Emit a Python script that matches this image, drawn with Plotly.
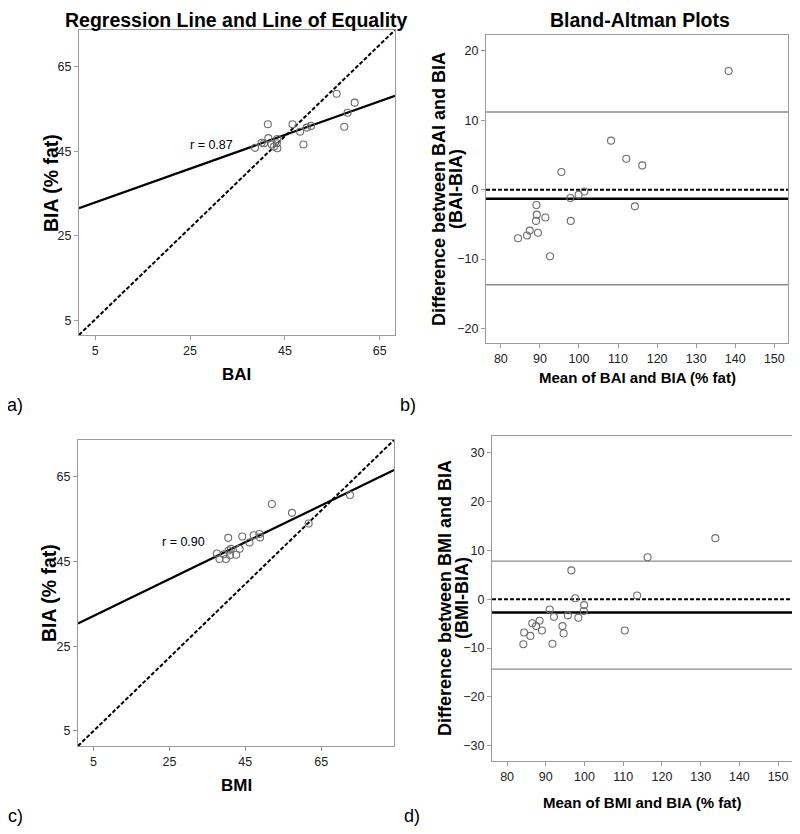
import plotly.graph_objects as go

# Page is 800x834; the HTML body has an 8px margin, so the figure is 784x818
# and screen coordinates are shifted by 8px.
PAGE_OFF = 8
W, H = 784, 818

# ---------------- data ----------------
# Panel a: BAI vs BIA
bai_a = [55.9, 59.7, 58.2, 57.5, 41.4, 46.6, 48.2, 49.6, 50.5, 48.9, 41.5, 40.1, 40.6, 38.7, 42.2, 43.3, 42.7, 43.4, 43.4]
bia_a = [58.6, 56.5, 54.1, 50.8, 51.4, 51.4, 49.6, 50.6, 51.0, 46.6, 48.1, 47.0, 46.9, 45.8, 46.6, 46.9, 46.1, 45.7, 47.9]
reg_a = {"slope": 0.40, "intercept": 30.86}
r_a = "r = 0.87"
eq_a_x = [1.6, 68.2]
eq_a_y = [1.5, 73.7]

# Panel b: Bland-Altman BAI vs BIA
mean_b = [138.3, 108.2, 112.1, 116.2, 95.5, 101.4, 99.9, 97.8, 114.3, 89.1, 89.2, 89.0, 91.4, 97.9, 87.4, 86.7, 84.4, 89.5, 92.6]
diff_b = [17.1, 7.07, 4.47, 3.5, 2.54, -0.25, -0.72, -1.2, -2.4, -2.2, -3.6, -4.5, -4.0, -4.5, -5.9, -6.6, -7.0, -6.2, -9.6]
loa_b = {"upper": 11.2, "mean": -1.3, "lower": -13.7}

# Panel c: BMI vs BIA
bmi_c = [72.6, 52.0, 57.3, 61.7, 40.5, 44.2, 47.2, 48.7, 48.9, 46.1, 43.5, 41.2, 37.5, 38.2, 39.9, 41.0, 42.6, 39.3, 40.6]
bia_c = [60.7, 58.6, 56.5, 54.0, 50.6, 50.9, 51.2, 51.5, 50.7, 49.5, 48.0, 48.0, 46.9, 45.6, 45.6, 46.5, 46.6, 46.7, 47.6]
reg_c = {"slope": 0.4346, "intercept": 30.0}
r_c = "r = 0.90"
eq_c_x = [0.9, 84.2]
eq_c_y = [1.45, 73.7]

# Panel d: Bland-Altman BMI vs BIA
mean_d = [133.8, 116.3, 96.6, 113.6, 97.6, 99.9, 99.8, 91.0, 92.1, 95.7, 98.4, 88.4, 86.5, 87.5, 94.3, 89.0, 110.4, 84.4, 86.0, 94.6, 84.2, 91.7]
diff_d = [12.5, 8.6, 5.9, 0.75, 0.2, -1.2, -2.4, -2.1, -3.6, -3.3, -3.8, -4.4, -4.9, -5.5, -5.5, -6.4, -6.4, -6.8, -7.5, -7.0, -9.2, -9.1]
loa_d = {"upper": 7.8, "mean": -2.7, "lower": -14.3}

ticks_reg = [5, 25, 45, 65]
ticks_ba_x = [80, 90, 100, 110, 120, 130, 140, 150]
ticks_ba_y_b = [-20, -10, 0, 10, 20]
ticks_ba_y_d = [-30, -20, -10, 0, 10, 20, 30]

# ---------------- styling ----------------
FONT = "Liberation Sans, Arial, Helvetica, sans-serif"
AXC = "#9a9a9a"


def px(x):
    return (x - PAGE_OFF) / W


def py(y):
    return 1 - (y - PAGE_OFF) / H


fig = go.Figure()

marker = dict(symbol="circle-open", size=7, color="#6e6e6e", line=dict(width=1.1))


def add_reg_panel(xs, ys, reg, eqx, eqy, xr, n):
    xa = "x" if n == 1 else f"x{n}"
    ya = "y" if n == 1 else f"y{n}"
    fig.add_trace(go.Scatter(x=eqx, y=eqy, mode="lines", xaxis=xa, yaxis=ya,
                             line=dict(color="black", width=2, dash="4px,2px"), hoverinfo="skip"))
    lx = [xr[0], xr[1]]
    ly = [reg["intercept"] + reg["slope"] * v for v in lx]
    fig.add_trace(go.Scatter(x=lx, y=ly, mode="lines", xaxis=xa, yaxis=ya,
                             line=dict(color="black", width=2.2), hoverinfo="skip"))
    fig.add_trace(go.Scatter(x=xs, y=ys, mode="markers", xaxis=xa, yaxis=ya, marker=marker))


def add_ba_panel(xs, ys, loa, xr, n):
    xa = f"x{n}"
    ya = f"y{n}"
    for key, col, wd in [("upper", "#8c8c8c", 1.4), ("lower", "#8c8c8c", 1.4), ("mean", "black", 2.4)]:
        fig.add_trace(go.Scatter(x=[xr[0], xr[1]], y=[loa[key], loa[key]], mode="lines", xaxis=xa, yaxis=ya,
                                 line=dict(color=col, width=wd), hoverinfo="skip"))
    fig.add_trace(go.Scatter(x=[xr[0], xr[1]], y=[0, 0], mode="lines", xaxis=xa, yaxis=ya,
                             line=dict(color="black", width=2, dash="4px,2px"), hoverinfo="skip"))
    fig.add_trace(go.Scatter(x=xs, y=ys, mode="markers", xaxis=xa, yaxis=ya, marker=marker))


xr_a, yr_a = [1.6, 68.2], [1.5, 73.7]
xr_b, yr_b = [76.2, 153.5], [-22.1, 22.3]
xr_c, yr_c = [0.9, 84.2], [1.45, 73.7]
xr_d, yr_d = [76.1, 153.6], [-33.1, 33.4]

add_reg_panel(bai_a, bia_a, reg_a, eq_a_x, eq_a_y, xr_a, 1)
add_ba_panel(mean_b, diff_b, loa_b, xr_b, 2)
add_reg_panel(bmi_c, bia_c, reg_c, eq_c_x, eq_c_y, xr_c, 3)
add_ba_panel(mean_d, diff_d, loa_d, xr_d, 4)


def ax(domain, rng, ticks, anchor):
    return dict(domain=domain, range=rng, tickvals=ticks, showgrid=False, zeroline=False,
                showline=True, mirror=True, linecolor=AXC, linewidth=1.2,
                ticks="outside", ticklen=4, tickcolor=AXC, tickwidth=1,
                tickfont=dict(family=FONT, size=12.5, color="#222"), anchor=anchor)


layout = dict(
    width=W, height=H, margin=dict(l=0, r=0, t=0, b=0),
    paper_bgcolor="white", plot_bgcolor="white", showlegend=False,
    xaxis=ax([px(79), px(395)], xr_a, ticks_reg, "y"),
    yaxis=ax([py(335), py(30)], yr_a, ticks_reg, "x"),
    xaxis2=ax([px(486), px(788)], xr_b, ticks_ba_x, "y2"),
    yaxis2=ax([py(343), py(35)], yr_b, ticks_ba_y_b, "x2"),
    xaxis3=ax([px(78), px(394)], xr_c, ticks_reg, "y3"),
    yaxis3=ax([py(746), py(440)], yr_c, ticks_reg, "x3"),
    xaxis4=ax([px(492), px(792)], xr_d, ticks_ba_x, "y4"),
    yaxis4=ax([py(761), py(436)], yr_d, ticks_ba_y_d, "x4"),
)
fig.update_layout(**layout)


def note(text, x, y, size, bold=False, angle=0, yanchor="middle"):
    t = f"<b>{text}</b>" if bold else text
    fig.add_annotation(text=t, x=px(x), y=py(y), xref="paper", yref="paper", showarrow=False,
                       textangle=angle, font=dict(family=FONT, size=size, color="black"),
                       xanchor="center", yanchor=yanchor, borderpad=0)


note("Regression Line and Line of Equality", 237, 8, 19.5, bold=True, yanchor="top")
note("Bland-Altman Plots", 640, 8, 19.5, bold=True, yanchor="top")

note("BAI", 236, 375, 17, bold=True)
note("BIA (% fat)", 51, 183, 19.5, bold=True, angle=-90)
note("Difference between BAI and BIA", 439, 189, 18, bold=True, angle=-90)
note("(BAI-BIA)", 456, 189, 18, bold=True, angle=-90)
note("Mean of BAI and BIA (% fat)", 637, 378, 15, bold=True)

note("BMI", 236, 785, 17, bold=True)
note("BIA (% fat)", 49, 593, 19.5, bold=True, angle=-90)
note("Difference between BMI and BIA", 445, 598, 18, bold=True, angle=-90)
note("(BMI-BIA)", 462, 598, 18, bold=True, angle=-90)
note("Mean of BMI and BIA (% fat)", 642, 802, 15, bold=True)

note("a)", 15, 405, 18)
note("b)", 408, 405, 18)
note("c)", 15, 816, 18)
note("d)", 412, 816, 18)

fig.add_annotation(text=r_a, x=29.6, y=46.5, xref="x", yref="y", showarrow=False,
                   font=dict(family=FONT, size=12.5, color="black"))
fig.add_annotation(text=r_c, x=28.8, y=49.6, xref="x3", yref="y3", showarrow=False,
                   font=dict(family=FONT, size=12.5, color="black"))

fig.write_html("out.html")
